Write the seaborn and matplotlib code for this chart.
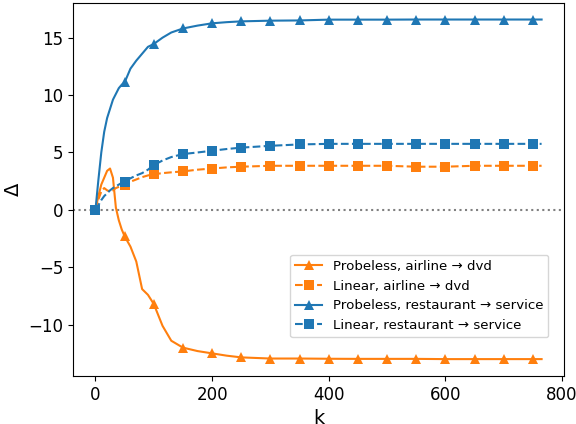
import numpy as np
import pandas as pd
import matplotlib
matplotlib.use("Agg")
import matplotlib.pyplot as plt
import seaborn as sns

# k values (markers drawn every 50)
k = [0, 5, 10, 15, 20, 25, 30, 35, 40, 45, 50, 60, 70, 80, 90, 100, 115, 130,
     150, 175, 200, 225, 250, 300, 350, 400, 450, 500, 550, 600, 650, 700, 750, 765]

probeless_airline = [0, 1.2, 2.2, 2.8, 3.4, 3.6, 2.8, 0.2, -0.9, -1.7, -2.3, -3.2,
                     -4.5, -6.9, -7.4, -8.2, -10.1, -11.4, -12.0, -12.3, -12.5,
                     -12.7, -12.85, -12.95, -12.95, -12.97, -12.98, -12.98, -12.98,
                     -13.0, -13.0, -13.0, -13.0, -13.0]

linear_airline = [0, 0.9, 1.6, 1.9, 1.7, 1.6, 1.7, 1.9, 2.0, 2.1, 2.2, 2.45, 2.65,
                  2.85, 3.0, 3.1, 3.2, 3.27, 3.35, 3.5, 3.6, 3.7, 3.76, 3.84, 3.84,
                  3.84, 3.84, 3.84, 3.76, 3.76, 3.84, 3.84, 3.84, 3.84]

probeless_restaurant = [0, 2.6, 5.0, 6.8, 8.0, 8.8, 9.6, 10.1, 10.6, 10.9, 11.1,
                        12.3, 13.0, 13.6, 14.2, 14.45, 15.0, 15.45, 15.8, 16.05,
                        16.25, 16.35, 16.42, 16.48, 16.5, 16.57, 16.57, 16.57,
                        16.58, 16.58, 16.58, 16.58, 16.58, 16.58]

linear_restaurant = [0, 0.4, 0.85, 1.2, 1.45, 1.7, 1.9, 2.05, 2.2, 2.35, 2.45, 2.75,
                     3.0, 3.2, 3.5, 3.9, 4.3, 4.6, 4.86, 5.0, 5.15, 5.3, 5.42, 5.58,
                     5.7, 5.75, 5.75, 5.75, 5.75, 5.75, 5.75, 5.75, 5.75, 5.75]

marks = [i for i, v in enumerate(k) if v % 50 == 0]

series = [
    ("Probeless, airline \u2192 dvd", probeless_airline, "tab:orange", "-", "^"),
    ("Linear, airline \u2192 dvd", linear_airline, "tab:orange", "--", "s"),
    ("Probeless, restaurant \u2192 service", probeless_restaurant, "tab:blue", "-", "^"),
    ("Linear, restaurant \u2192 service", linear_restaurant, "tab:blue", "--", "s"),
]

fig, ax = plt.subplots(figsize=(5.76, 4.24), dpi=100)
fig.subplots_adjust(left=0.127, right=0.979, top=0.994, bottom=0.113)

ax.axhline(0, color="gray", linestyle=":", linewidth=1.5)

for label, vals, color, ls, mk in series:
    df = pd.DataFrame({"k": k, "delta": vals})
    sns.lineplot(data=df, x="k", y="delta", ax=ax, color=color, linestyle=ls,
                 marker=mk, markersize=6.5, markevery=marks, markeredgewidth=0,
                 linewidth=1.5, label=label)

ax.set_xlabel("k", fontsize=14)
ax.set_ylabel("\u0394", fontsize=14)
ax.tick_params(labelsize=12)
ax.set_xticks([0, 200, 400, 600, 800])
ax.legend(loc="lower right", bbox_to_anchor=(0.982, 0.086), fontsize=9.6)

plt.savefig("out.png", dpi=100)
